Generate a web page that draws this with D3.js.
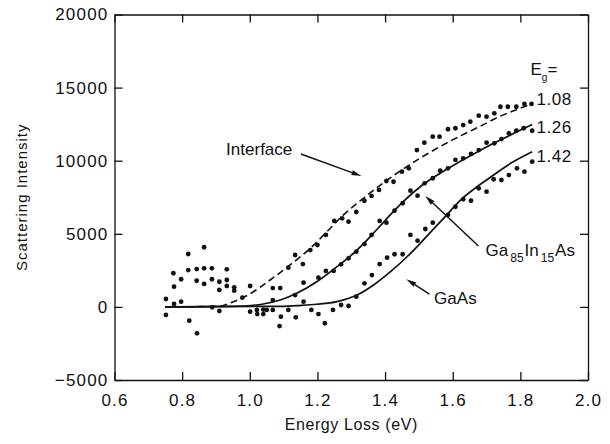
<!DOCTYPE html>
<html>
<head>
<meta charset="utf-8">
<script src="https://cdn.jsdelivr.net/npm/d3@7"></script>
<style>
  body { margin: 0; background: #fff; }
  svg { font-family: "Liberation Sans", Arial, Helvetica, sans-serif; }
</style>
</head>
<body>
<script>
// fitted curves, [energy (eV), intensity]
const interfaceFit = [[0.75,0],[0.853,20],[0.912,60],[0.952,360],[1.001,900],[1.060,1840],[1.119,2870],[1.179,4010],[1.228,5140],[1.277,6290],[1.336,7430],[1.386,8330],[1.445,9300],[1.504,10180],[1.563,10970],[1.623,11700],[1.682,12360],[1.741,13050],[1.790,13500],[1.830,13850]]
const gaInAsFit = [[0.75,0],[0.95,30],[1.040,200],[1.090,470],[1.139,930],[1.198,1720],[1.258,2750],[1.307,3670],[1.356,4800],[1.406,6060],[1.449,7100],[1.504,8220],[1.563,9140],[1.623,9960],[1.682,10720],[1.741,11420],[1.790,11980],[1.835,12480]]
const gaAsFit = [[0.75,0],[1.1,40],[1.139,90],[1.198,180],[1.258,360],[1.317,810],[1.366,1500],[1.416,2410],[1.465,3430],[1.504,4350],[1.534,5100],[1.573,6050],[1.623,7310],[1.672,8220],[1.721,9020],[1.771,9820],[1.835,10620]]

// measured points
const interfaceDots = [[0.774,2300],[0.818,3620],[0.818,2520],[0.843,2590],[0.865,4080],[0.865,2640],[0.888,2640],[0.932,2570],
  [1.068,1290],[1.090,1290],[1.114,2680],[1.134,3550],[1.157,2930],[1.179,3890],[1.200,4230],[1.225,4920],[1.250,5880],[1.273,6060],[1.292,5830],[1.315,6490],[1.339,7260],[1.360,7590],[1.382,8000],[1.404,8610],[1.425,8560],[1.450,9250],[1.470,9480],[1.494,10730],[1.516,11230],[1.541,11640],[1.561,11640],[1.586,12150],[1.608,12220],[1.631,12440],[1.652,12670],[1.677,13080],[1.700,13010],[1.723,13240],[1.741,13690],[1.763,13690],[1.788,13690],[1.812,13880],[1.833,13880]]
const gaInAsDots = [[0.776,1380],[0.797,1890],[0.843,1790],[0.865,1570],[0.888,1890],[0.910,1720],[0.910,1160],[0.932,1840],[0.932,1430],[0.954,1340],[0.954,1110],[0.978,630],[1.001,1430],
  [1.068,470],[1.134,810],[1.159,1660],[1.203,2000],[1.225,2460],[1.248,2460],[1.270,2910],[1.292,3320],[1.315,3780],[1.339,4300],[1.360,4920],[1.384,5880],[1.404,5760],[1.428,6580],[1.452,7090],[1.475,7950],[1.496,7610],[1.517,8450],[1.541,8800],[1.563,9320],[1.586,9480],[1.608,10050],[1.631,10160],[1.654,10460],[1.677,10730],[1.700,11230],[1.723,11190],[1.744,11480],[1.766,11870],[1.788,12050],[1.810,12220],[1.835,12050]]
const gaAsDots = [[0.752,540],[0.752,-550],[0.776,200],[0.797,360],[0.821,-940],[0.844,-1810],[0.889,-30],[0.910,-280],[1.001,-330],
  [1.021,-210],[1.022,-490],[1.040,-180],[1.040,-490],[1.050,-210],[1.068,-210],[1.088,-1310],[1.092,-670],[1.114,-210],[1.136,-710],[1.159,360],[1.182,-210],[1.203,-490],[1.222,-1120],[1.246,-210],[1.270,130],[1.292,60],[1.315,700],[1.339,1610],[1.361,2180],[1.384,2930],[1.406,3370],[1.428,3600],[1.452,3600],[1.475,4920],[1.496,4530],[1.519,5330],[1.541,5760],[1.586,6290],[1.608,6850],[1.631,7360],[1.654,7260],[1.677,8110],[1.700,7880],[1.721,8730],[1.744,8680],[1.766,9020],[1.790,9480],[1.812,9250],[1.835,9930]]

const xTicks = [0.6, 0.8, 1.0, 1.2, 1.4, 1.6, 1.8, 2.0]
const yTicks = [-5000, 0, 5000, 10000, 15000, 20000]
const gapLabels = [["1.08", 13810], ["1.26", 11870], ["1.42", 9930]]

// arrows: [from E, from I, to E, to I]
const arrows = [[1.151,10460,1.330,8950],[1.676,4170,1.519,7590],[1.531,880,1.463,1890]]

let w = 610, h = 444
let m = {l: 114.5, r: 22, t: 14.5, b: 64}
let svg = d3.select("body").append("svg").attr("width", w).attr("height", h)

let x = d3.scaleLinear().domain([0.6, 2.0]).range([m.l, w - m.r])
let y = d3.scaleLinear().domain([-5000, 20000]).range([h - m.b, m.t])

function styleAxis(g) {
    g.selectAll("path, line").attr("stroke", "#111").attr("stroke-width", 1.3)
    g.selectAll("text").attr("fill", "#111").style("font-size", "17px").style("letter-spacing", "1.2px")
}

svg.append("g").attr("transform", `translate(0,${y(-5000)})`)
    .call(d3.axisBottom(x).tickValues(xTicks).tickFormat(d3.format(".1f")).tickSize(-8).tickSizeOuter(0).tickPadding(14))
    .call(styleAxis)
svg.append("g").attr("transform", `translate(0,${y(20000)})`)
    .call(d3.axisTop(x).tickValues(xTicks).tickFormat("").tickSize(-8).tickSizeOuter(0))
    .call(styleAxis)
svg.append("g").attr("transform", `translate(${x(0.6)},0)`)
    .call(d3.axisLeft(y).tickValues(yTicks).tickFormat(d3.format("d")).tickSize(-8).tickSizeOuter(0).tickPadding(6))
    .call(styleAxis)
svg.append("g").attr("transform", `translate(${x(2.0)},0)`)
    .call(d3.axisRight(y).tickValues(yTicks).tickFormat("").tickSize(-8).tickSizeOuter(0))
    .call(styleAxis)

// axis titles
svg.append("text").attr("x", (x(0.6) + x(2.0)) / 2).attr("y", 429.5)
    .attr("text-anchor", "middle").style("font-size", "16px").style("letter-spacing", "0.6px")
    .attr("fill", "#111").text("Energy Loss (eV)")
svg.append("text").attr("transform", `translate(26.5,${(y(-5000) + y(20000)) / 2}) rotate(-90)`)
    .attr("text-anchor", "middle").style("font-size", "15px").style("letter-spacing", "1px")
    .attr("fill", "#111").text("Scattering Intensity")

// fitted curves
let line = d3.line().x(d => x(d[0])).y(d => y(d[1])).curve(d3.curveMonotoneX)
svg.append("path").datum(interfaceFit).attr("d", line)
    .attr("fill", "none").attr("stroke", "#111").attr("stroke-width", 1.6).attr("stroke-dasharray", "7,4")
svg.append("path").datum(gaInAsFit).attr("d", line)
    .attr("fill", "none").attr("stroke", "#111").attr("stroke-width", 1.7)
svg.append("path").datum(gaAsFit).attr("d", line)
    .attr("fill", "none").attr("stroke", "#111").attr("stroke-width", 1.7)

// data points
svg.append("g").selectAll("circle")
    .data(interfaceDots.concat(gaInAsDots, gaAsDots))
    .enter()
    .append("circle")
        .attr("cx", d => x(d[0]))
        .attr("cy", d => y(d[1]))
        .attr("r", 2.4)
        .attr("fill", "#111")

// arrows
arrows.forEach(a => {
    let x1 = x(a[0]), y1 = y(a[1]), x2 = x(a[2]), y2 = y(a[3])
    let ang = Math.atan2(y2 - y1, x2 - x1)
    let len = 10, hw = 2.6
    let bx = x2 - len * Math.cos(ang), by = y2 - len * Math.sin(ang)
    svg.append("line").attr("x1", x1).attr("y1", y1).attr("x2", bx).attr("y2", by)
        .attr("stroke", "#111").attr("stroke-width", 1.5)
    svg.append("polygon")
        .attr("points", [[x2, y2],
            [bx + hw * Math.sin(ang), by - hw * Math.cos(ang)],
            [bx - hw * Math.sin(ang), by + hw * Math.cos(ang)]].map(p => p.join(",")).join(" "))
        .attr("fill", "#111")
})

// curve labels
svg.append("text").attr("x", x(0.930)).attr("y", y(10360))
    .style("font-size", "17px").attr("fill", "#111").text("Interface")
let gl = svg.append("text").attr("x", x(1.697)).attr("y", y(3480))
    .style("font-size", "17px").attr("fill", "#111")
gl.append("tspan").text("Ga")
gl.append("tspan").attr("dx", 2).attr("dy", 6).style("font-size", "12px").text("85")
gl.append("tspan").attr("dx", 1).attr("dy", -6).text("In")
gl.append("tspan").attr("dx", 2).attr("dy", 6).style("font-size", "12px").text("15")
gl.append("tspan").attr("dx", 1).attr("dy", -6).text("As")
svg.append("text").attr("x", x(1.545)).attr("y", y(200))
    .style("font-size", "17px").attr("fill", "#111").text("GaAs")

// band gap labels
let eg = svg.append("text").attr("x", x(1.830)).attr("y", y(15860))
    .style("font-size", "17px").attr("fill", "#111")
eg.append("tspan").text("E")
eg.append("tspan").attr("dy", 6).style("font-size", "10px").text("g")
eg.append("tspan").attr("dy", -6).text("=")
svg.append("g").selectAll("text")
    .data(gapLabels)
    .enter()
    .append("text")
        .attr("x", x(1.848))
        .attr("y", d => y(d[1]))
        .style("font-size", "17px").style("letter-spacing", "0.5px")
        .attr("fill", "#111")
        .text(d => d[0])
</script>
</body>
</html>
